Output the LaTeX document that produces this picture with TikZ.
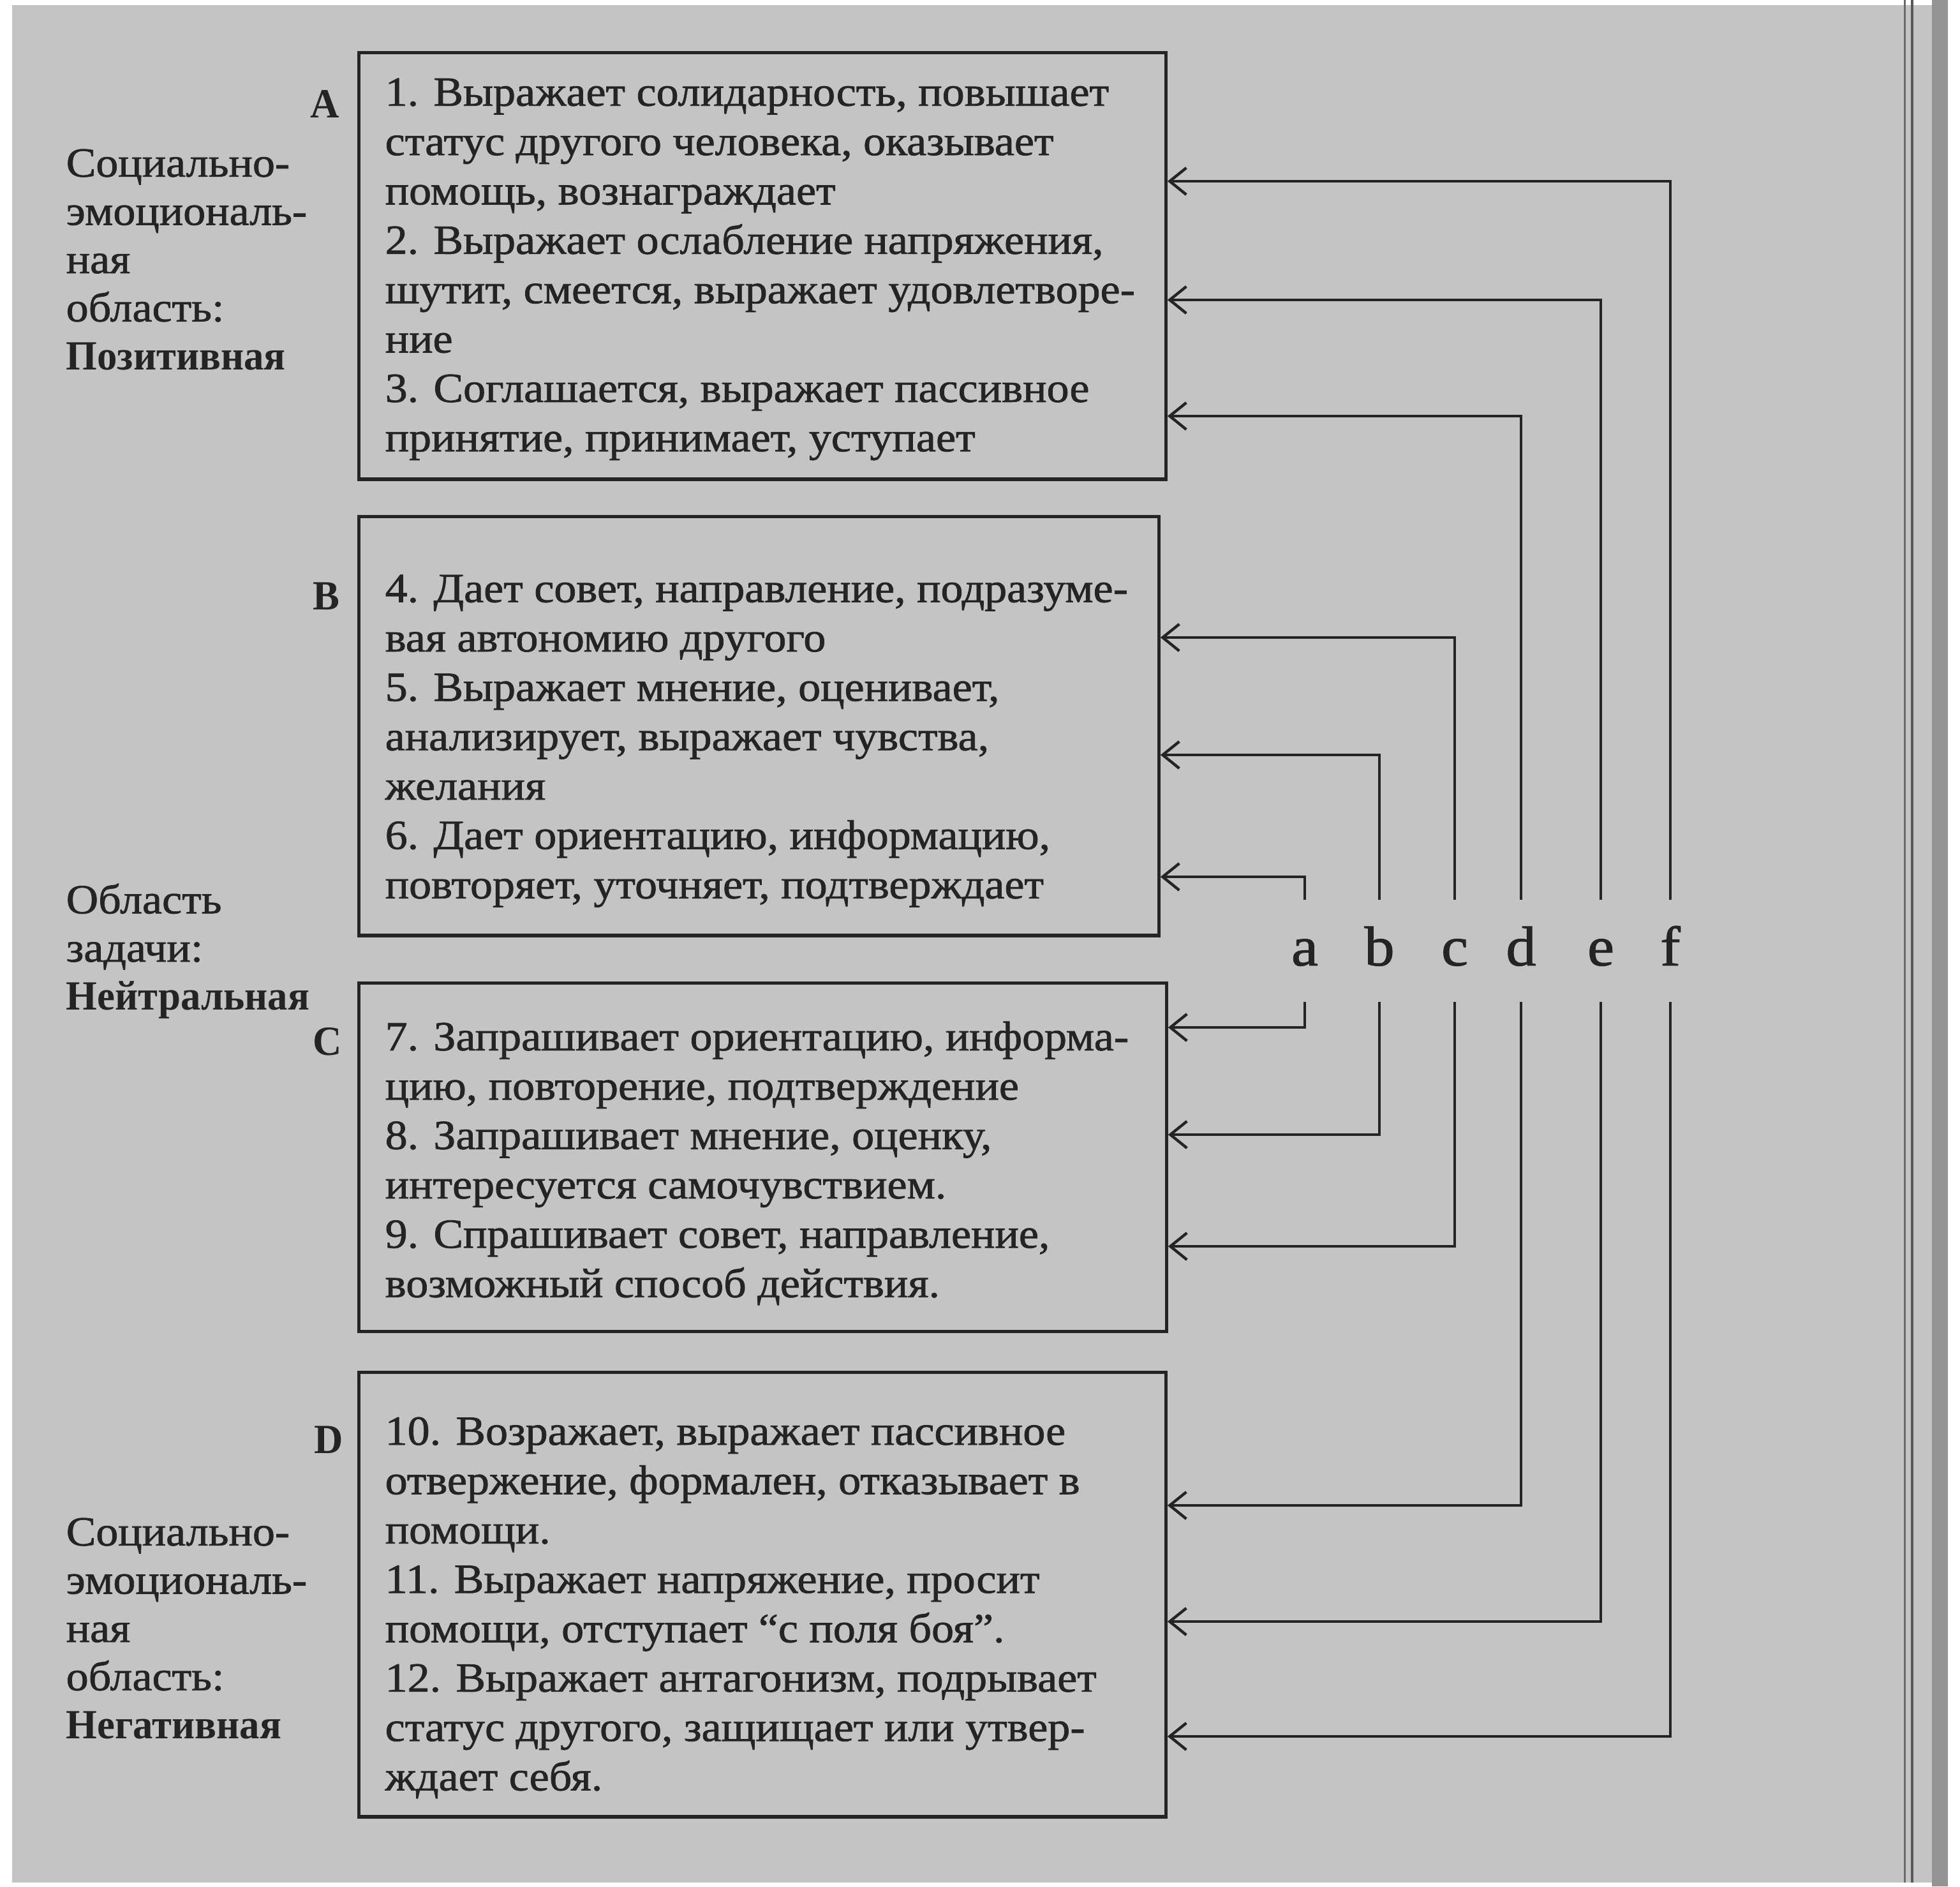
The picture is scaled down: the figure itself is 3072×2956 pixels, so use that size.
\documentclass[tikz,border=0pt]{standalone}
\usepackage{fontspec}
\setmainfont{Liberation Serif}[UprightFeatures={FakeBold=1.2,FakeStretch=1.075},BoldFeatures={FakeStretch=0.965}]
\usepackage{xcolor}
\definecolor{paper}{RGB}{196,196,196}
\definecolor{ink}{RGB}{36,36,36}
\usetikzlibrary{arrows.meta,positioning,calc}

\begin{document}
\begin{tikzpicture}[x=0.01cm, y=-0.01cm,
  group/.style={rectangle, draw=ink, line width=1.45pt, anchor=north west, inner sep=0pt},
  itemtext/.style={anchor=north west, align=left, inner sep=0pt, text=ink, font=\fontsize{18.5}{22}\selectfont},
  area/.style={anchor=north west, align=left, inner sep=0pt, text=ink, font=\fontsize{18.5}{21.5}\selectfont},
  tag/.style={text=ink, font=\fontsize{18.5}{22}\selectfont\bfseries, inner sep=0pt},
  letter/.style={text=ink, font=\fontsize{25}{25}\selectfont, minimum height=1.58cm, inner sep=0pt, text height=1.3em, text depth=0pt},
  link/.style={draw=ink, line width=1.25pt, -{Straight Barb[length=0.26cm,width=0.42cm]}}
]
  \useasboundingbox (0,0) rectangle (3072,2956);
  % paper
  \fill[white] (0,0) rectangle (3072,2956);
  \fill[paper] (19,8) rectangle (3053,2950);
  \fill[paper!75!black] (3028,0) rectangle (3053,2956);
  \draw[paper!55!black, line width=0.03cm] (2985,0) -- (2985,2950);
  \draw[paper!45!black, line width=0.04cm] (2997,0) -- (2997,2950);

  % boxes
  \node[group, minimum width=12.64cm, minimum height=6.68cm] (boxA) at (560,80) {};
  \node[group, minimum width=12.53cm, minimum height=6.56cm] (boxB) at (560,807) {};
  \node[group, minimum width=12.65cm, minimum height=5.46cm] (boxC) at (560,1538) {};
  \node[group, minimum width=12.64cm, minimum height=6.96cm] (boxD) at (560,2148) {};

  \node[tag] (tagA) at (509,163) {A};
  \node[tag] (tagB) at (511,934) {B};
  \node[tag] (tagC) at (513,1632) {C};
  \node[tag] (tagD) at (515,2256) {D};

  \node[itemtext] (textA) at (603,122) {1. Выражает солидарность, повышает\\статус другого человека, оказывает\\помощь, вознаграждает\\2. Выражает ослабление напряжения,\\шутит, смеется, выражает удовлетворе-\\ние\\3. Соглашается, выражает пассивное\\принятие, принимает, уступает};
  \node[itemtext] (textB) at (603,900) {4. Дает совет, направление, подразуме-\\вая автономию другого\\5. Выражает мнение, оценивает,\\анализирует, выражает чувства,\\желания\\6. Дает ориентацию, информацию,\\повторяет, уточняет, подтверждает};
  \node[itemtext] (textC) at (603,1600) {7. Запрашивает ориентацию, информа-\\цию, повторение, подтверждение\\8. Запрашивает мнение, оценку,\\интересуется самочувствием.\\9. Спрашивает совет, направление,\\возможный способ действия.};
  \node[itemtext] (textD) at (603,2220) {10. Возражает, выражает пассивное\\отвержение, формален, отказывает в\\помощи.\\11. Выражает напряжение, просит\\помощи, отступает “с поля боя”.\\12. Выражает антагонизм, подрывает\\статус другого, защищает или утвер-\\ждает себя.};

  \node[area] (posArea) at (103,233) {Социально-\\эмоциональ-\\ная\\область:\\\textbf{Позитивная}};
  \node[area] (taskArea) at (103,1384) {Область\\задачи:\\\textbf{Нейтральная}};
  \node[area] (negArea) at (103,2378) {Социально-\\эмоциональ-\\ная\\область:\\\textbf{Негативная}};

  % channels
  \node[letter] (la) at (2045,1490) {a};
  \node[letter] (lb) at (2162,1490) {b};
  \node[letter] (lc) at (2280,1490) {c};
  \node[letter] (ld) at (2384,1490) {d};
  \node[letter] (le) at (2509,1490) {e};
  \node[letter] (lf) at (2618,1490) {f};

  \foreach \l/\up/\yu/\down/\yd in {f/A/284/D/2721, e/A/470/D/2541, d/A/652/D/2359,
      c/B/999/C/1953, b/B/1183/C/1778, a/B/1374/C/1610} {
    \draw[link] (l\l.north) |- (box\up.east |- 0,\yu);
    \draw[link] (l\l.south) |- (box\down.east |- 0,\yd);
  }
\end{tikzpicture}
\end{document}
